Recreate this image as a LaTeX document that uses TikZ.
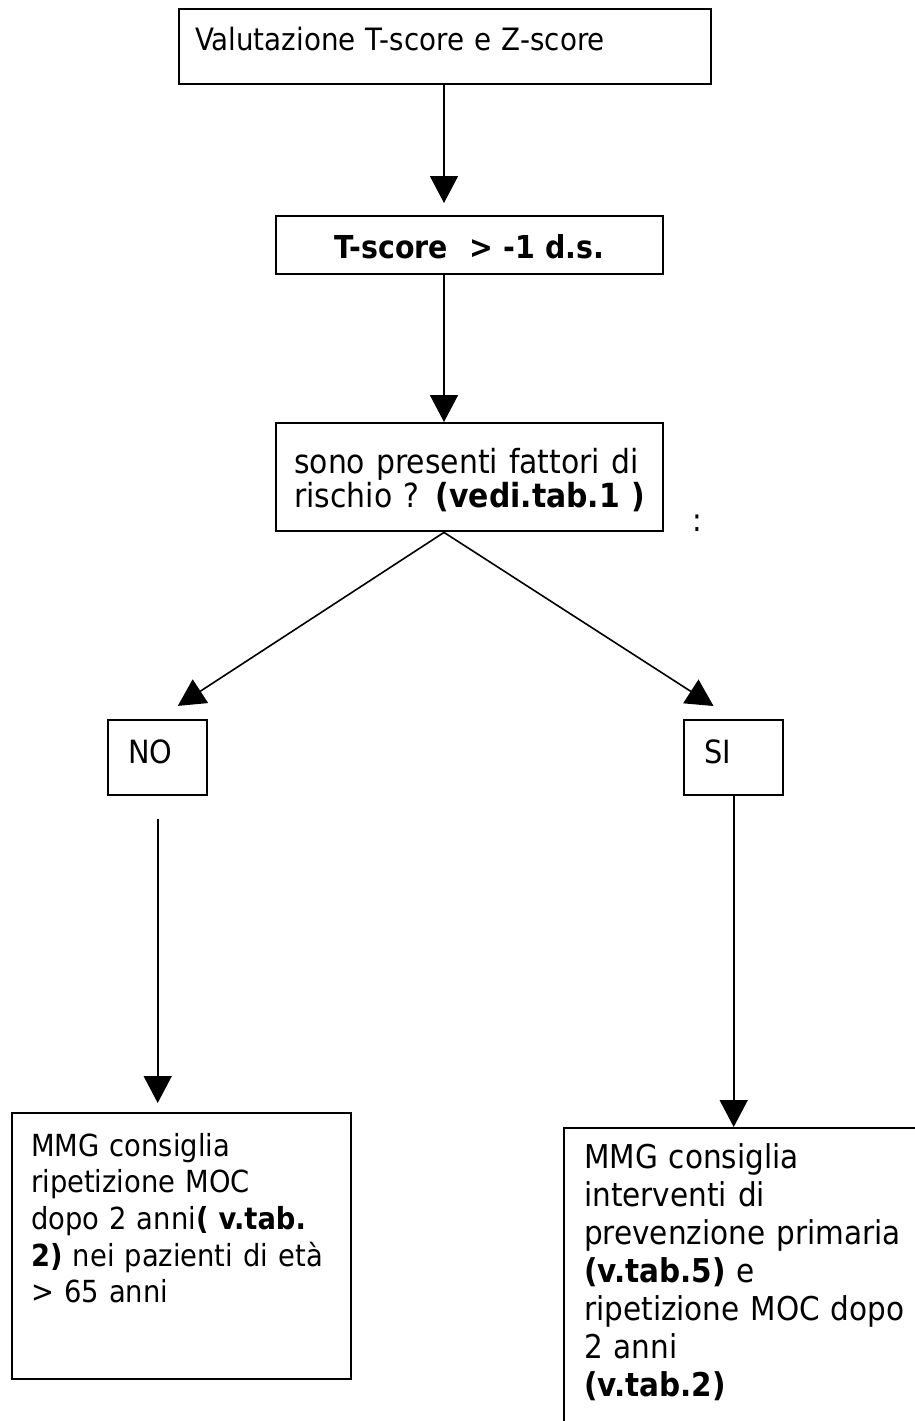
\documentclass[tikz,border=0pt]{standalone}
\usepackage{fontspec}
\setmainfont{DejaVu Sans Condensed}[BoldFont={DejaVu Sans Condensed Bold}]
\usetikzlibrary{arrows.meta, positioning, calc}

\tikzset{
  box/.style={draw, line width=1.2pt, anchor=north west, inner ysep=0pt,
    align=left, font=\fontsize{15pt}{18.5pt}\selectfont},
  link/.style={-{Triangle[length=13.5pt, width=14pt]}, line width=0.8pt},
}

\begin{document}
\begin{tikzpicture}[x=0.5pt, y=-0.5pt]
  \useasboundingbox (0,0) rectangle (915,1421);
  \clip (0,0) rectangle (915,1421);
  \coordinate (spine) at (444,0);
  % first steps
  \node[box, inner xsep=8pt, text width=250pt, text height=20.5pt, text depth=17pt,
    font=\fontsize{15.4pt}{18pt}\selectfont]
    (eval) at (178,8) {Valutazione T-score e Z-score};
  \node[box, align=center, inner xsep=0pt, text width=193.5pt, text height=21pt, text depth=8pt,
    font=\fontsize{15.8pt}{18pt}\selectfont]
    (tscore) at (275,215) {\textbf{T-score~~> -1 d.s.}};
  \node[box, inner xsep=9pt, text width=175.5pt, text height=25pt, text depth=29pt,
    font=\fontsize{16.6pt}{17pt}\selectfont]
    (risk) at (275,422) {sono presenti fattori di\\rischio ? \textbf{(vedi.tab.1 )}};
  \node[font=\fontsize{16pt}{18pt}\selectfont] (colon) at (697,523) {:};
  % answers
  \node[box, inner xsep=10pt, text width=29.5pt, text height=21.5pt, text depth=16pt,
    font=\fontsize{16pt}{18pt}\selectfont]
    (no) at (107,719) {NO};
  \node[box, inner xsep=10pt, text width=29.5pt, text height=21.5pt, text depth=16pt,
    font=\fontsize{16pt}{18pt}\selectfont]
    (si) at (683,719) {SI};
  % what the MMG advises
  \node[box, inner xsep=9.5pt, text width=150.5pt, text height=21.5pt, text depth=111.5pt,
    font=\fontsize{15.2pt}{18.3pt}\selectfont]
    (advno) at (11,1112) {MMG consiglia\\ripetizione MOC\\dopo 2 anni\textbf{( v.tab.}\\
      \textbf{2)} nei pazienti di età\\> 65 anni};
  \node[box, inner xsep=10pt, text width=200pt, text height=20pt, text depth=170pt,
    font=\fontsize{16.4pt}{19pt}\selectfont]
    (advsi) at (563,1127) {MMG consiglia\\interventi di\\prevenzione primaria\\
      \textbf{(v.tab.5)} e\\ripetizione MOC dopo\\2 anni\\\textbf{(v.tab.2)}};

  \draw[link, shorten >=6pt] (eval.south -| spine) -- (tscore.north -| spine);
  \draw[link] (tscore.south -| spine) -- (risk.north -| spine);
  \draw[link, shorten >=12pt] (risk.south -| spine) -- (no.north);
  \draw[link, shorten >=12pt] (risk.south -| spine) -- (si.north);
  \draw[link, shorten <=11.5pt, shorten >=4.5pt] (no.south) -- (no.south |- advno.north);
  \draw[link] (si.south) -- (si.south |- advsi.north);
\end{tikzpicture}
\end{document}
